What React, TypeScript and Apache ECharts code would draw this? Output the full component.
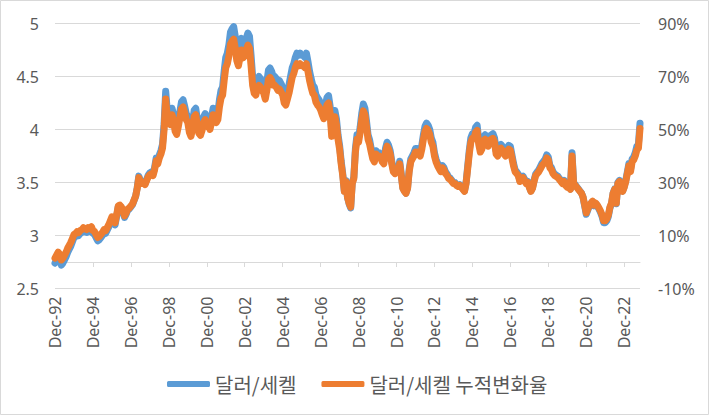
import { useEffect, useRef } from "react";
import * as echarts from "echarts";

// USD/ILS monthly rate (달러/세켈), Dec 1992 – Oct 2023
const r1992 = [2.74];
const r1993 = [2.77, 2.80, 2.78, 2.72, 2.74, 2.77, 2.80, 2.84, 2.87, 2.90, 2.94, 2.98];
const r1994 = [2.99, 3.01, 3.00, 3.02, 3.03, 3.05, 3.04, 3.03, 3.05, 3.04, 3.06, 3.02];
const r1995 = [3.01, 2.98, 2.95, 2.96, 2.98, 3.00, 3.03, 3.02, 3.05, 3.08, 3.12, 3.16];
const r1996 = [3.13, 3.10, 3.18, 3.27, 3.28, 3.26, 3.22, 3.17, 3.20, 3.24, 3.25, 3.27];
const r1997 = [3.29, 3.33, 3.37, 3.45, 3.56, 3.52, 3.50, 3.51, 3.49, 3.53, 3.57, 3.59];
const r1998 = [3.60, 3.58, 3.64, 3.73, 3.70, 3.76, 3.80, 3.86, 4.05, 4.36, 4.18, 4.12];
const r1999 = [4.10, 4.20, 4.14, 4.03, 4.00, 4.08, 4.17, 4.26, 4.28, 4.22, 4.15, 4.12];
const r2000 = [4.02, 3.98, 4.06, 4.18, 4.20, 4.10, 4.01, 3.99, 4.04, 4.12, 4.15, 4.08];
const r2001 = [4.10, 4.05, 4.12, 4.20, 4.18, 4.12, 4.15, 4.28, 4.37, 4.40, 4.55, 4.68];
const r2002 = [4.72, 4.80, 4.92, 4.95, 4.97, 4.88, 4.75, 4.70, 4.78, 4.86, 4.78, 4.80];
const r2003 = [4.86, 4.91, 4.88, 4.70, 4.50, 4.42, 4.40, 4.47, 4.50, 4.48, 4.45, 4.42];
const r2004 = [4.36, 4.45, 4.56, 4.58, 4.55, 4.50, 4.50, 4.48, 4.45, 4.46, 4.43, 4.40];
const r2005 = [4.32, 4.30, 4.36, 4.42, 4.50, 4.58, 4.62, 4.68, 4.72, 4.70, 4.72, 4.70];
const r2006 = [4.70, 4.68, 4.72, 4.64, 4.55, 4.48, 4.42, 4.40, 4.33, 4.30, 4.28, 4.25];
const r2007 = [4.20, 4.16, 4.22, 4.30, 4.32, 4.22, 3.98, 4.05, 4.18, 4.10, 3.95, 3.85];
const r2008 = [3.70, 3.58, 3.42, 3.52, 3.36, 3.30, 3.26, 3.50, 3.55, 3.82, 3.95, 3.92];
const r2009 = [4.02, 4.15, 4.24, 4.20, 4.08, 3.95, 3.90, 3.82, 3.75, 3.72, 3.80, 3.78];
const r2010 = [3.78, 3.76, 3.72, 3.70, 3.82, 3.88, 3.85, 3.80, 3.70, 3.62, 3.60, 3.62];
const r2011 = [3.62, 3.70, 3.58, 3.45, 3.42, 3.40, 3.45, 3.62, 3.72, 3.75, 3.78, 3.82];
const r2012 = [3.82, 3.80, 3.78, 3.85, 3.95, 4.03, 4.06, 4.04, 4.00, 3.92, 3.88, 3.78];
const r2013 = [3.72, 3.68, 3.65, 3.62, 3.66, 3.64, 3.60, 3.58, 3.55, 3.54, 3.52, 3.50];
const r2014 = [3.50, 3.48, 3.47, 3.48, 3.46, 3.44, 3.42, 3.50, 3.65, 3.80, 3.92, 3.96];
const r2015 = [3.96, 4.02, 4.04, 3.90, 3.82, 3.85, 3.93, 3.95, 3.92, 3.88, 3.94, 3.95];
const r2016 = [3.96, 3.92, 3.80, 3.78, 3.85, 3.86, 3.84, 3.80, 3.78, 3.82, 3.85, 3.84];
const r2017 = [3.76, 3.68, 3.62, 3.60, 3.58, 3.52, 3.55, 3.56, 3.53, 3.50, 3.51, 3.46];
const r2018 = [3.42, 3.45, 3.52, 3.58, 3.60, 3.62, 3.65, 3.68, 3.70, 3.72, 3.76, 3.74];
const r2019 = [3.66, 3.64, 3.60, 3.58, 3.57, 3.56, 3.54, 3.52, 3.50, 3.52, 3.48, 3.46];
const r2020 = [3.46, 3.44, 3.78, 3.50, 3.48, 3.46, 3.44, 3.42, 3.40, 3.36, 3.28, 3.20];
const r2021 = [3.24, 3.28, 3.30, 3.32, 3.28, 3.30, 3.28, 3.25, 3.22, 3.18, 3.12, 3.12];
const r2022 = [3.14, 3.18, 3.26, 3.30, 3.40, 3.44, 3.30, 3.50, 3.52, 3.48, 3.42, 3.46];
const r2023 = [3.52, 3.60, 3.68, 3.62, 3.72, 3.74, 3.78, 3.84, 3.86, 4.06];

// base rate of the cumulative change series (달러/세켈 누적변화율 = rate / base - 1)
const BASE_RATE = 2.7;

const MONTH_NAMES = ["Jan", "Feb", "Mar", "Apr", "May", "Jun", "Jul", "Aug", "Sep", "Oct", "Nov", "Dec"];
const START_YEAR = 1992;
const START_MONTH = 11; // December

const LEFT_TICKS = { min: 2.5, max: 5, interval: 0.5 };
const RIGHT_TICKS = { min: -0.1, max: 0.9, interval: 0.2 };

const SERIES_NAMES = ["달러/세켈", "달러/세켈 누적변화율"];

const rates = [
  ...r1992, ...r1993, ...r1994, ...r1995, ...r1996, ...r1997, ...r1998, ...r1999,
  ...r2000, ...r2001, ...r2002, ...r2003, ...r2004, ...r2005, ...r2006, ...r2007,
  ...r2008, ...r2009, ...r2010, ...r2011, ...r2012, ...r2013, ...r2014, ...r2015,
  ...r2016, ...r2017, ...r2018, ...r2019, ...r2020, ...r2021, ...r2022, ...r2023,
];
const cumulative = rates.map((r) => r / BASE_RATE - 1);

const months = rates.map((_, i) => {
  const m = START_MONTH + i;
  const y = START_YEAR + Math.floor(m / 12);
  return `${MONTH_NAMES[m % 12]}-${String(y % 100).padStart(2, "0")}`;
});

const TEXT = "#595959";
const GRID = "#d9d9d9";
const FONT = '"Noto Sans", "Noto Sans CJK KR", sans-serif';
const showEvery24 = (idx: number) => idx % 24 === 0;

export default function App() {
  const ref = useRef<HTMLDivElement>(null);
  useEffect(() => {
    const chart = echarts.init(ref.current!, null, { renderer: "svg" });
    chart.setOption({
      animation: false,
      backgroundColor: "#ffffff",
      textStyle: { fontFamily: FONT },
      grid: { left: 55, right: 71, top: 23.5, bottom: 127.5, containLabel: false },
      graphic: [
        {
          type: "rect",
          shape: { x: 0.5, y: 0.5, width: 708, height: 414 },
          style: { fill: "none", stroke: GRID, lineWidth: 1 },
          silent: true,
        },
      ],
      legend: {
        data: SERIES_NAMES,
        left: 162,
        top: 369,
        icon: "roundRect",
        itemWidth: 43,
        itemHeight: 6,
        itemGap: 25,
        textStyle: { fontSize: 20, color: TEXT, fontFamily: '"Noto Sans CJK KR", sans-serif' },
      },
      xAxis: {
        type: "category",
        data: months,
        boundaryGap: false,
        axisLine: { show: true, lineStyle: { color: GRID, width: 1 } },
        axisTick: { show: true, interval: showEvery24, length: 5, lineStyle: { color: GRID } },
        axisLabel: {
          interval: showEvery24,
          rotate: 90,
          margin: 8,
          fontSize: 16,
          color: TEXT,
          fontFamily: FONT,
        },
        splitLine: { show: false },
      },
      yAxis: [
        {
          type: "value",
          min: LEFT_TICKS.min,
          max: LEFT_TICKS.max,
          interval: LEFT_TICKS.interval,
          axisLine: { show: false },
          axisTick: { show: false },
          axisLabel: { fontSize: 16, color: TEXT, margin: 16, fontFamily: FONT, formatter: (v: number) => String(v) },
          splitLine: { show: true, lineStyle: { color: GRID, width: 1 } },
        },
        {
          type: "value",
          min: RIGHT_TICKS.min,
          max: RIGHT_TICKS.max,
          interval: RIGHT_TICKS.interval,
          position: "right",
          axisLine: { show: false },
          axisTick: { show: false },
          axisLabel: {
            fontSize: 16,
            color: TEXT,
            margin: 18,
            fontFamily: FONT,
            formatter: (v: number) => `${Math.round(v * 100)}%`,
          },
          splitLine: { show: false },
        },
      ],
      series: [
        {
          name: SERIES_NAMES[0],
          type: "line",
          data: rates,
          yAxisIndex: 0,
          showSymbol: false,
          symbol: "none",
          color: "#5b9bd5",
          lineStyle: { width: 7, color: "#5b9bd5", join: "round", cap: "round" },
        },
        {
          name: SERIES_NAMES[1],
          type: "line",
          data: cumulative,
          yAxisIndex: 1,
          showSymbol: false,
          symbol: "none",
          color: "#ed7d31",
          lineStyle: { width: 7, color: "#ed7d31", join: "round", cap: "round" },
        },
      ],
    });
    return () => chart.dispose();
  }, []);
  return (
    <div
      ref={ref}
      style={{ position: "absolute", left: 0, top: 0, width: 711, height: 416, background: "#fff" }}
    />
  );
}
